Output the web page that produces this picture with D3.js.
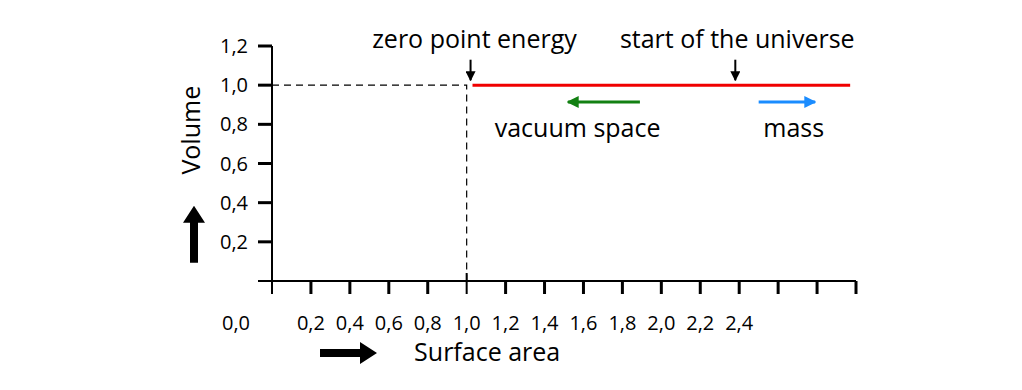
<!DOCTYPE html>
<html>
<head>
<meta charset="utf-8">
<script src="https://cdn.jsdelivr.net/npm/d3@7"></script>
<style>
  body { margin: 0; background: #fff; }
  svg text { font-family: "Open Sans", "Noto Sans", sans-serif; fill: #000; }
</style>
</head>
<body>
<div id="chart"></div>
<script>
// chart values
var xTicks = [0, 0.2, 0.4, 0.6, 0.8, 1.0, 1.2, 1.4, 1.6, 1.8, 2.0, 2.2, 2.4, 2.6, 2.8, 3.0];
var xLabels = [0.2, 0.4, 0.6, 0.8, 1.0, 1.2, 1.4, 1.6, 1.8, 2.0, 2.2, 2.4];
var yTicks = [0.2, 0.4, 0.6, 0.8, 1.0, 1.2];
var zeroPoint = 1.0;           // dashed guide to (1,1)
var redLine = [1.03, 2.97];    // volume = 1 line
var redLevel = 1.0;
var markers = [                // small down arrows + captions
  {label: "zero point energy", x: 1.02, tx: 1.04},
  {label: "start of the universe", x: 2.38, tx: 2.39}
];
var flows = [                  // coloured arrows + captions
  {label: "vacuum space", from: 1.89, to: 1.52, tx: 1.57, color: "#128012"},
  {label: "mass", from: 2.50, to: 2.79, tx: 2.68, color: "#1a8cff"}
];

var width = 1022, height = 390;
var fmt = function(v) { return d3.format(".1f")(v).replace(".", ","); };

var svg = d3.select("#chart").append("svg")
    .attr("width", width)
    .attr("height", height);

var x = d3.scaleLinear().domain([0, 3]).range([272, 856]);
var y = d3.scaleLinear().domain([0, 1.2]).range([281, 46]);

var defs = svg.append("defs");
function head(id, color, w, h) {
  defs.append("marker")
      .attr("id", id)
      .attr("viewBox", "0 0 10 10")
      .attr("refX", 9).attr("refY", 5)
      .attr("markerUnits", "userSpaceOnUse")
      .attr("markerWidth", w).attr("markerHeight", h)
      .attr("orient", "auto")
    .append("path")
      .attr("d", "M0,0L10,5L0,10Z")
      .attr("fill", color);
}
head("hk", "#000", 10, 10);
flows.forEach(function(f, i) { head("hf" + i, f.color, 12, 12); });

// block arrow pointing along +x, rotated as needed
function bigArrow(cx, cy, angle) {
  var p = d3.path();
  p.moveTo(-29, -4); p.lineTo(11, -4); p.lineTo(11, -11);
  p.lineTo(28, 0);
  p.lineTo(11, 11); p.lineTo(11, 4); p.lineTo(-29, 4); p.closePath();
  svg.append("path")
      .attr("d", p.toString())
      .attr("transform", "translate(" + cx + "," + cy + ") rotate(" + angle + ")")
      .attr("fill", "#000");
}

// dashed guides
svg.append("path")
    .attr("d", "M" + x(0) + "," + y(redLevel) + "H" + x(zeroPoint) + "V" + y(0))
    .attr("fill", "none")
    .attr("stroke", "#000")
    .attr("stroke-width", 1.2)
    .attr("stroke-dasharray", "7,5");

// x axis
var gx = svg.append("g").attr("transform", "translate(0," + y(0) + ")");
gx.append("line")
    .attr("x1", x(0) - 14).attr("x2", x(3))
    .attr("stroke", "#000").attr("stroke-width", 2);
gx.selectAll(".t").data(xTicks).enter().append("line")
    .attr("x1", function(d) { return x(d); })
    .attr("x2", function(d) { return x(d); })
    .attr("y1", function(d) { return d === 0 || d === zeroPoint ? -8 : 0; })
    .attr("y2", 13)
    .attr("stroke", "#000")
    .attr("stroke-width", function(d) { return d === 0 || d === zeroPoint ? 2 : 3; });
gx.selectAll(".l").data(xLabels).enter().append("text")
    .attr("x", function(d) { return x(d); })
    .attr("y", 49)
    .attr("text-anchor", "middle")
    .style("font-size", "20px")
    .text(fmt);
gx.append("text")
    .attr("x", x(0) - 36).attr("y", 49)
    .attr("text-anchor", "middle")
    .style("font-size", "20px")
    .text(fmt(0));

// y axis
var gy = svg.append("g").attr("transform", "translate(" + x(0) + ",0)");
gy.append("line")
    .attr("y1", y(1.2)).attr("y2", y(0) + 13)
    .attr("stroke", "#000").attr("stroke-width", 2);
gy.selectAll(".t").data(yTicks).enter().append("line")
    .attr("y1", function(d) { return y(d); })
    .attr("y2", function(d) { return y(d); })
    .attr("x1", -14).attr("x2", 0)
    .attr("stroke", "#000").attr("stroke-width", 3);
gy.selectAll(".l").data(yTicks).enter().append("text")
    .attr("x", -24)
    .attr("y", function(d) { return y(d) + 7; })
    .attr("text-anchor", "end")
    .style("font-size", "20px")
    .text(fmt);

// axis titles with block arrows
svg.append("text")
    .attr("transform", "translate(" + (x(0) - 72) + "," + y(0.77) + ") rotate(-90)")
    .attr("text-anchor", "middle")
    .style("font-size", "25px")
    .text("Volume");
bigArrow(x(0) - 78, y(0.2) - 8, -90);
bigArrow(x(0) + 77, y(0) + 72, 0);
svg.append("text")
    .attr("x", x(0.73)).attr("y", y(0) + 80)
    .style("font-size", "25px")
    .text("Surface area");

// red line
svg.append("line")
    .attr("x1", x(redLine[0])).attr("x2", x(redLine[1]))
    .attr("y1", y(redLevel)).attr("y2", y(redLevel))
    .attr("stroke", "#f00000").attr("stroke-width", 3);

// markers
markers.forEach(function(m) {
  svg.append("line")
      .attr("x1", x(m.x)).attr("x2", x(m.x))
      .attr("y1", y(1.13)).attr("y2", y(1.025))
      .attr("stroke", "#000").attr("stroke-width", 2)
      .attr("marker-end", "url(#hk)");
  svg.append("text")
      .attr("x", x(m.tx)).attr("y", y(1.19))
      .attr("text-anchor", "middle")
      .style("font-size", "25px")
      .text(m.label);
});

// flows
flows.forEach(function(f, i) {
  svg.append("line")
      .attr("x1", x(f.from)).attr("x2", x(f.to))
      .attr("y1", y(0.914)).attr("y2", y(0.914))
      .attr("stroke", f.color).attr("stroke-width", 3)
      .attr("marker-end", "url(#hf" + i + ")");
  svg.append("text")
      .attr("x", x(f.tx)).attr("y", y(0.735))
      .attr("text-anchor", "middle")
      .style("font-size", "25px")
      .text(f.label);
});
</script>
</body>
</html>
